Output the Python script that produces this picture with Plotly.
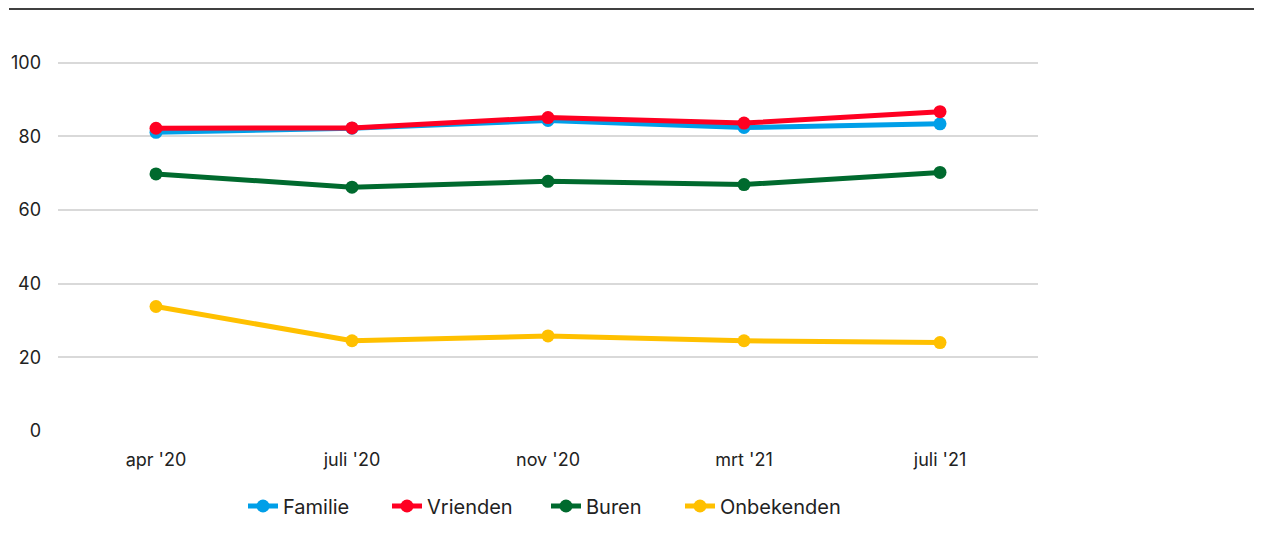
import plotly.graph_objects as go

categories = ["apr '20", "juli '20", "nov '20", "mrt '21", "juli '21"]
familie = [81.1, 82.2, 84.3, 82.4, 83.4]
vrienden = [82.2, 82.3, 85.1, 83.6, 86.7]
buren = [69.8, 66.2, 67.8, 66.9, 70.2]
onbekenden = [33.8, 24.5, 25.8, 24.5, 24.0]

series = [
    ("Familie", familie, "#009FE8"),
    ("Vrienden", vrienden, "#FF0022"),
    ("Buren", buren, "#006A2E"),
    ("Onbekenden", onbekenden, "#FFC000"),
]
legend_ids = ["legend", "legend2", "legend3", "legend4"]
legend_text_px = [283, 427, 586, 720]

fig = go.Figure()
for (name, vals, col), lg in zip(series, legend_ids):
    fig.add_trace(go.Scatter(
        x=categories, y=vals, name=name, mode="lines+markers",
        line=dict(color=col, width=5),
        marker=dict(color=col, size=13),
        cliponaxis=False, legend=lg,
    ))

FONT = "Inter"
# page body has an 8px margin; figure placed at (8, 8)
W, H = 1246, 542
L, R, T, B = 58 - 8, 1254 - 1038, 59 - 8, 550 - 431
PW, PH = 1038 - 58, 431 - 59

legends = {}
for lg, tx in zip(legend_ids, legend_text_px):
    legends[lg] = dict(orientation="h", x=(tx - 38 - 58 - 2) / PW, xanchor="left",
                       y=(431 - 506) / PH, yanchor="middle",
                       font=dict(family=FONT, size=20, color="#222222"),
                       itemwidth=30, bgcolor="rgba(0,0,0,0)")

fig.update_layout(
    width=W, height=H,
    margin=dict(l=L, r=R, t=T, b=B, autoexpand=False),
    paper_bgcolor="white", plot_bgcolor="white",
    font=dict(family=FONT, size=18, color="#222222"),
    showlegend=True,
    **legends,
    xaxis=dict(range=[-0.5, 4.5], showgrid=False, zeroline=False, showline=False, ticks="",
               automargin=False,
               ticklabelstandoff=16, tickfont=dict(family=FONT, size=18)),
    yaxis=dict(range=[0, 101], tickvals=[0, 20, 40, 60, 80, 100], showgrid=True,
               automargin=False,
               gridcolor="#D9D9D9", gridwidth=1.5, zeroline=False, showline=False,
               ticks="", ticklabelstandoff=16, tickfont=dict(family=FONT, size=18)),
    shapes=[dict(type="line", xref="paper", yref="paper",
                 x0=(9 - 58) / PW, x1=(1255 - 58) / PW,
                 y0=(431 - 9) / PH, y1=(431 - 9) / PH,
                 line=dict(color="black", width=1.5))],
)

fig.write_html("out.html")
